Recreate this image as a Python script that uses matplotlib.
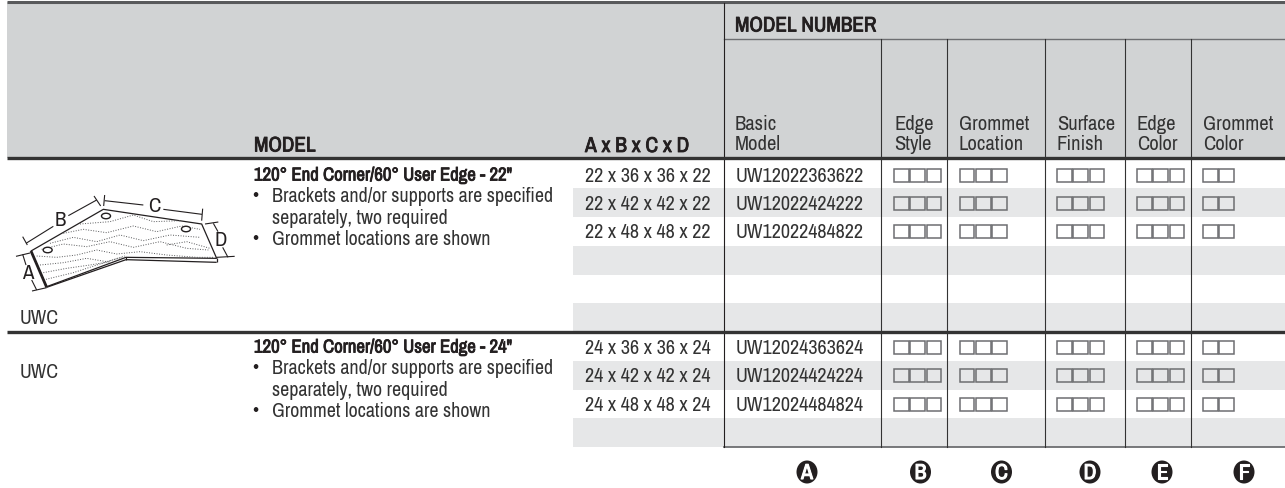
import matplotlib
matplotlib.use("Agg")
import matplotlib.pyplot as plt
from matplotlib.patches import Rectangle, Polygon, Ellipse
from matplotlib import font_manager as fm
import matplotlib.patheffects as pe

names = {f.name for f in fm.fontManager.ttflist}
narrow = sorted(n for n in names if "Narrow" in n or "Condensed" in n)
FONT = narrow[0] if narrow else "Liberation Sans"
plt.rcParams["font.family"] = [FONT, "DejaVu Sans"]

# ---- content ----
sizes_22 = ["22 x 36 x 36 x 22", "22 x 42 x 42 x 22", "22 x 48 x 48 x 22"]
sizes_24 = ["24 x 36 x 36 x 24", "24 x 42 x 42 x 24", "24 x 48 x 48 x 24"]
models_22 = ["UW12022363622", "UW12022424222", "UW12022484822"]
models_24 = ["UW12024363624", "UW12024424224", "UW12024484824"]
col_heads = [("Basic", "Model"), ("Edge", "Style"), ("Grommet", "Location"), ("Surface", "Finish"), ("Edge", "Color"), ("Grommet", "Color")]
col_letters = ["A", "B", "C", "D", "E", "F"]
box_counts = [3, 3, 3, 3, 2]
bullets = [("Brackets and/or supports are specified", "separately, two required"), ("Grommet locations are shown",)]
title_22 = '120° End Corner/60° User Edge - 22"'
title_24 = '120° End Corner/60° User Edge - 24"'

INK = "#231f20"
TXT = "#333333"
HEAD = "#d1d3d4"
BAND = "#e6e7e8"
DY = 1.5

def heavy(color=INK, w=0.6):
    return [pe.withStroke(linewidth=w, foreground=color)]

fig = plt.figure(figsize=(12.85, 4.88), dpi=100)
ax = fig.add_axes([0, 0, 1, 1])
ax.set_xlim(0, 1285)
ax.set_ylim(488, 0)
ax.axis("off")

# backgrounds
ax.add_patch(Rectangle((7, 2), 1278, 156, fc=HEAD, ec="none", zorder=0))
for y0, y1 in [(188, 217), (246, 275), (303, 331), (361, 390), (418, 447)]:
    ax.add_patch(Rectangle((573, y0), 712, y1 - y0, fc=BAND, ec="none", zorder=0))

# rules
ax.plot([7, 1285], [2, 2], color="#58595b", lw=2.2, solid_capstyle="butt")
ax.plot([7, 1285], [158, 158], color="#333333", lw=2.4, solid_capstyle="butt", zorder=3)
ax.plot([7, 1285], [331.5, 331.5], color="#333333", lw=2.4, solid_capstyle="butt", zorder=3)
ax.plot([724, 1285], [39, 39], color="#6d6e71", lw=1.0)
ax.plot([724, 1285], [447, 447], color="#6d6e71", lw=1.3)
vlines = [724, 881, 947, 1044.5, 1124.5, 1190.5]
for i, x in enumerate(vlines):
    ax.plot([x, x], [3 if i == 0 else 39, 447], color=INK if i < 1 else "#333333", lw=0.8, zorder=2)

# header text
ax.text(735, 26, "MODEL NUMBER", fontsize=15.2, color=INK, va="center", path_effects=heavy())
ax.text(254, 146, "MODEL", fontsize=15.2, color=INK, va="center", path_effects=heavy())
ax.text(585, 146, "A x B x C x D", fontsize=15.4, color=INK, va="center", path_effects=heavy())
head_x = [735, 894, 959, 1057, 1137, 1203]
for x, (a, b) in zip(head_x, col_heads):
    ax.text(x, 124.5, a, fontsize=14.8, color=TXT, va="center")
    ax.text(x, 145, b, fontsize=14.8, color=TXT, va="center")

# rows
def group(sizes, models, y_rows):
    for s, m, y in zip(sizes, models, y_rows):
        ax.text(585, y + DY, s, fontsize=14.5, color=TXT, va="center")
        ax.text(735.5, y + DY, m, fontsize=14.5, color=TXT, va="center")
        for start, n in zip([894, 959.5, 1057, 1137, 1203], box_counts):
            for k in range(n):
                ax.add_patch(Rectangle((start + k * 16.4, y - 6.5), 14.6, 13, fc="none", ec="#6d6e71", lw=1.1, zorder=3))

group(sizes_22, models_22, [175, 203, 231])
group(sizes_24, models_24, [347, 375, 404])

# description text
def desc(title, y0):
    ax.text(254, y0 + DY, title, fontsize=13.5, color=INK, va="center", path_effects=heavy())
    ys = [y0 + 21 + DY, y0 + 64 + DY]
    for b, y in zip(bullets, ys):
        ax.text(255, y, "•", fontsize=15, color=INK, va="center", ha="center")
        for j, part in enumerate(b):
            ax.text(272, y + 21.5 * j, part, fontsize=14.4, color=TXT, va="center")

desc(title_22, 174)
desc(title_24, 346)
ax.text(20, 318, "UWC", fontsize=14.4, color=TXT, va="center")
ax.text(20, 373, "UWC", fontsize=14.4, color=TXT, va="center")

# letters
letter_x = [807, 920.5, 1001.5, 1090, 1162, 1244]
for x, l in zip(letter_x, col_letters):
    ax.add_patch(Ellipse((x, 472), 21, 23, fc=INK, ec="none", zorder=3))
    ax.text(x, 473, l, fontsize=15.5, color="white", ha="center", va="center", zorder=4,
            path_effects=heavy("white", 0.8))

# illustration: points in crop coordinates (3x, offset 150 in y)
def P(pts):
    return [(x / 3, 150 + y / 3) for x, y in pts]

def line(pts, lw=0.8, color=INK, ls="-"):
    xy = P(pts)
    ax.plot([p[0] for p in xy], [p[1] for p in xy], color=color, lw=lw, ls=ls, solid_capstyle="butt")

ax.add_patch(Polygon(P([(93, 303), (310, 178), (605, 222), (650, 325), (378, 322), (140, 410)]),
                     closed=True, fc="white", ec=INK, lw=0.9, zorder=1))
line([(93, 303), (140, 412)], lw=2.0)
line([(140, 412), (378, 329), (650, 337)], lw=0.9)
line([(650, 325), (650, 337)], lw=0.9)
line([(378, 322), (378, 329)], lw=0.8)

# wood grain
grains = [
    [(110, 318), (170, 322), (230, 315), (290, 300), (350, 312), (420, 305), (500, 315), (590, 322), (640, 322)],
    [(120, 345), (190, 338), (260, 325), (320, 335), (375, 318)],
    [(130, 368), (200, 355), (270, 345), (330, 335)],
    [(138, 388), (220, 368), (300, 342), (365, 322)],
    [(125, 298), (190, 282), (260, 290), (330, 275), (400, 292), (480, 275), (560, 295), (625, 300)],
    [(150, 280), (220, 262), (290, 275), (360, 255), (430, 272), (510, 255), (600, 262)],
    [(190, 250), (250, 238), (320, 248), (400, 228), (470, 245), (545, 228), (600, 238)],
    [(240, 222), (330, 215), (400, 195), (460, 215), (540, 212)],
    [(500, 285), (560, 275), (630, 295)],
]
for g in grains:
    line(g, lw=0.7, color="#58595b", ls=(0, (1, 1.6)))

for cx, cy in [(143, 300), (318, 198), (558, 237)]:
    (x, y), = P([(cx, cy)])
    ax.add_patch(Ellipse((x, y), 9, 5.5, fc="white", ec=INK, lw=1.0, zorder=3))

# dimension lines
line([(78, 280), (160, 229)]); line([(205, 197), (290, 150)])
line([(68, 260), (82, 285)]); line([(282, 138), (302, 168)])
line([(314, 152), (430, 165)]); line([(490, 178), (606, 193)])
line([(314, 135), (311, 168)]); line([(608, 176), (605, 212)])
line([(640, 220), (654, 245)]); line([(668, 292), (684, 322)])
line([(615, 222), (655, 216)]); line([(650, 322), (704, 319)])
line([(68, 313), (78, 345)]); line([(95, 390), (110, 420)])
line([(48, 319), (90, 309)]); line([(96, 423), (140, 413)])

for s, x, y in [("A", 82, 370), ("B", 182, 212), ("C", 462, 170), ("D", 661, 272)]:
    (px, py), = P([(x, y)])
    ax.text(px, py, s, fontsize=15, color=INK, ha="center", va="center")

fig.savefig("out.png", dpi=100)
